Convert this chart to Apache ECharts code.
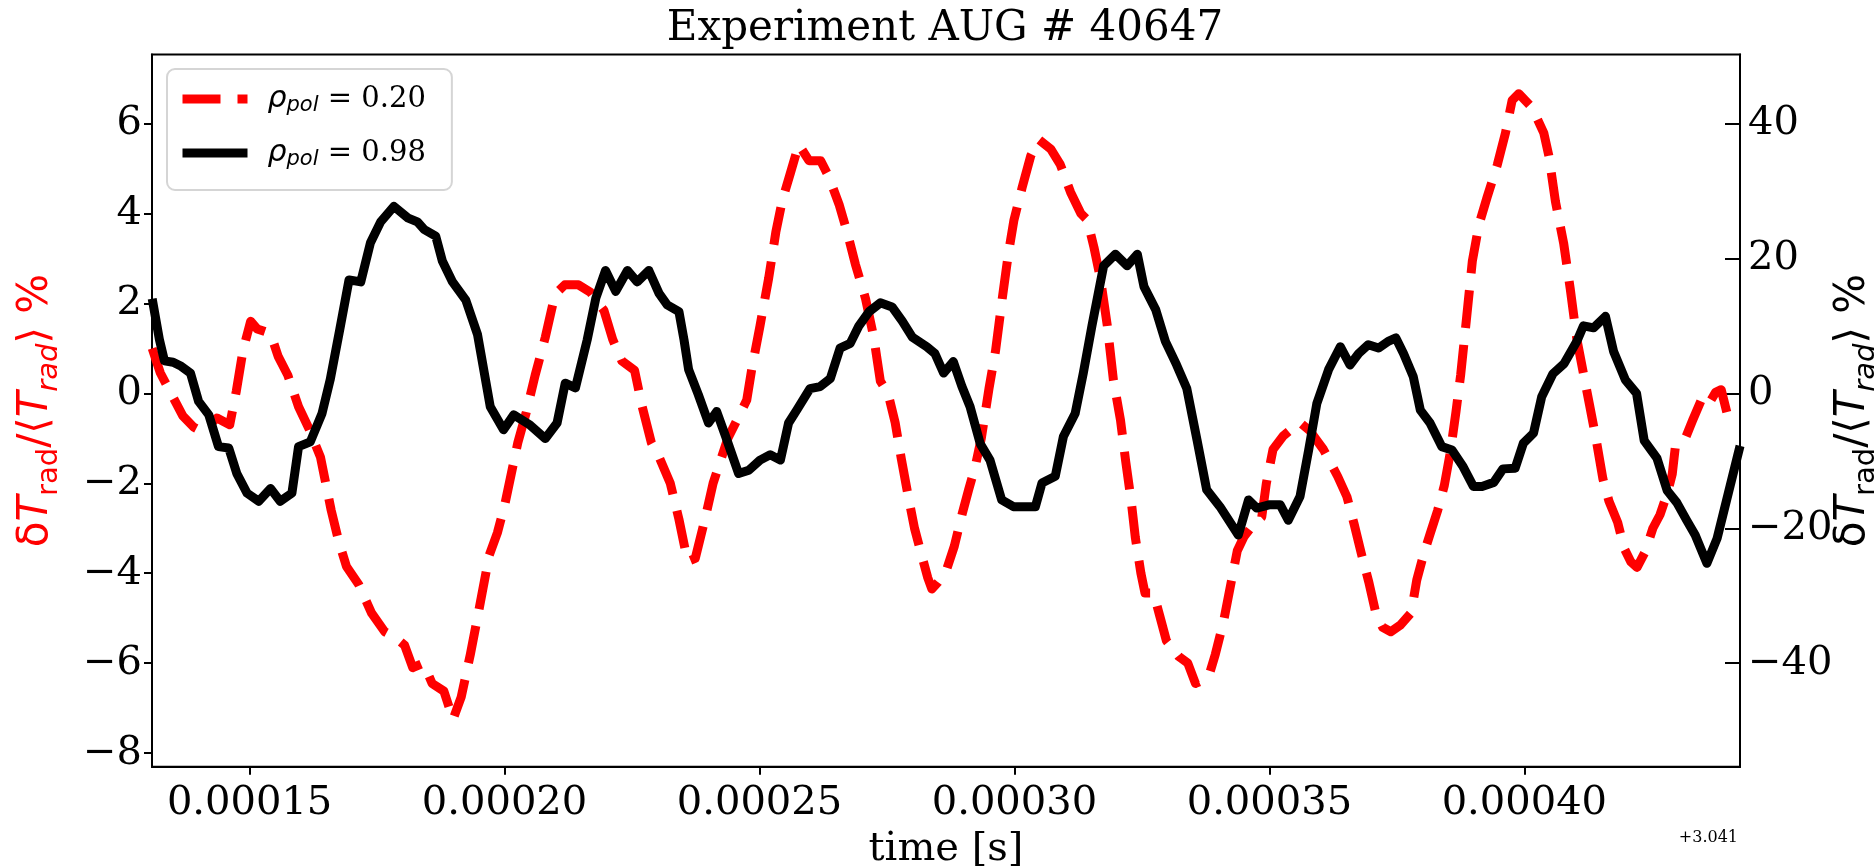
<!DOCTYPE html>
<html><head><meta charset="utf-8">
<script src="https://cdn.jsdelivr.net/npm/echarts@6/dist/echarts.min.js"></script>
<style>html,body{margin:0;padding:0;background:#fff;} #chart{width:1875px;height:866px;}</style>
</head><body><div id="chart"></div>
<script>
// time in microseconds after offset 3.041 s
const redTime = [130.9,132.5,134.8,136.9,139.0,140.7,143.6,146.1,147.4,148.7,150.2,151.5,154.1,155.6,157.5,159.6,161.7,163.9,166.0,167.5,169.0,171.4,173.9,176.5,178.6,180.4,182.0,184.1,185.8,188.1,189.9,191.5,193.3,195.0,197.0,198.6,200.0,201.3,202.6,204.2,206.0,208.0,209.9,211.8,214.5,216.8,219.5,221.2,223.0,225.5,227.0,228.8,230.4,232.5,234.2,235.9,237.4,239.3,240.9,242.2,243.8,246.2,247.5,248.5,250.1,251.8,253.2,254.5,256.1,257.7,259.7,262.0,263.6,265.6,267.2,268.8,270.8,272.4,273.7,275.2,276.6,277.8,279.1,280.4,281.8,283.0,283.8,285.0,286.6,288.2,289.7,291.0,292.3,293.5,295.0,296.3,297.6,298.8,299.9,301.5,303.2,304.8,307.1,309.0,311.0,313.0,314.3,315.6,316.9,318.2,319.4,320.8,321.8,322.9,323.7,324.8,325.6,327.3,328.5,329.8,332.2,334.0,335.5,338.0,339.4,341.0,342.5,343.7,345.0,347.0,348.5,349.4,350.7,352.7,354.3,356.0,357.9,360.6,363.4,365.2,366.6,368.0,369.5,370.9,372.2,373.8,375.7,377.8,378.9,380.2,381.5,383.0,384.3,385.5,386.6,387.5,388.6,389.8,391.1,392.7,394.7,396.3,397.6,398.9,401.5,403.8,404.8,406.1,407.7,409.0,410.3,411.6,412.8,414.1,415.4,416.6,418.3,419.6,420.9,422.1,423.7,425.2,426.6,428.1,429.0,429.6,431.4,433.0,434.8,436.1,437.5,438.6,439.7,441.2,442.3];
const redValues = [1.0,0.45,-0.05,-0.5,-0.75,-0.85,-0.55,-0.7,0.05,0.95,1.6,1.43,1.33,0.82,0.4,-0.3,-0.8,-1.42,-2.6,-3.3,-3.85,-4.25,-4.88,-5.3,-5.43,-5.6,-6.1,-6.0,-6.45,-6.62,-7.25,-6.75,-5.8,-4.8,-3.6,-3.1,-2.5,-1.8,-1.1,-0.45,0.4,1.25,2.2,2.41,2.41,2.25,1.84,1.2,0.72,0.51,-0.3,-1.1,-1.44,-2.0,-2.8,-3.74,-3.67,-2.8,-2.0,-1.55,-1.0,-0.45,-0.15,0.55,1.5,2.56,3.58,4.3,4.91,5.53,5.17,5.17,4.81,4.2,3.58,2.87,2.1,1.25,0.27,0.0,-0.65,-1.45,-2.25,-3.0,-3.6,-4.1,-4.35,-4.2,-3.95,-3.4,-2.7,-2.15,-1.63,-1.0,0.1,0.95,2.1,3.1,3.85,4.57,5.28,5.64,5.43,5.08,4.47,4.0,3.85,3.24,2.53,1.51,0.3,-0.6,-1.5,-2.4,-3.2,-4.0,-4.44,-4.44,-4.95,-5.5,-5.85,-6.0,-6.45,-6.33,-5.8,-5.08,-4.2,-3.5,-3.19,-2.9,-2.75,-2.0,-1.25,-0.95,-0.8,-0.65,-0.83,-1.25,-1.85,-2.3,-2.9,-3.55,-4.2,-4.9,-5.2,-5.3,-5.15,-4.88,-4.15,-3.6,-3.13,-2.6,-2.05,-1.3,-0.4,0.4,1.6,2.94,3.75,4.36,5.08,5.79,6.51,6.66,6.35,5.79,5.28,4.26,3.34,2.32,1.2,0.43,-0.27,-1.04,-1.9,-2.4,-2.87,-3.45,-3.75,-3.87,-3.52,-3.0,-2.7,-2.2,-1.8,-1.2,-1.05,-0.6,-0.12,-0.25,0.02,0.08,-0.42,-0.5,-0.59];
const blackTime = [130.9,132.3,133.3,135.0,136.6,138.4,140.0,142.0,143.9,145.9,147.5,149.5,151.8,154.1,156.0,158.3,159.6,161.9,164.2,165.8,167.7,169.5,171.8,173.7,175.7,178.3,181.0,182.9,184.2,186.5,187.8,189.8,192.4,194.7,197.2,199.8,201.8,205.0,208.0,210.3,211.9,213.9,216.2,217.9,219.8,221.8,224.1,226.0,228.3,230.3,231.9,234.2,235.2,236.1,238.0,240.0,241.6,243.6,245.9,247.9,250.1,252.1,254.1,255.7,257.3,259.9,261.9,263.9,265.8,267.8,269.5,271.5,273.7,276.0,278.0,280.0,282.8,284.4,286.1,288.0,289.7,291.3,293.3,295.2,297.5,299.8,304.1,305.4,308.0,309.6,311.9,313.5,315.2,317.5,319.8,322.1,324.1,325.4,327.7,329.6,331.8,333.8,335.8,337.7,340.3,343.9,345.9,347.5,350.1,352.1,353.7,356.0,357.7,359.3,361.6,363.9,365.8,367.5,369.4,371.4,373.3,374.8,376.3,378.2,379.6,381.5,383.8,385.8,388.0,390.0,391.7,394.0,395.8,398.2,399.8,401.8,403.4,405.6,407.8,410.3,411.6,413.6,415.9,417.5,419.8,422.0,423.5,426.0,428.0,429.9,431.9,433.5,435.8,437.8,440.0,442.3];
const blackValues = [14.0,8.0,4.8,4.6,4.0,3.0,-1.2,-3.2,-7.9,-8.1,-11.9,-14.8,-16.0,-14.1,-16.0,-14.8,-7.9,-7.2,-3.0,2.0,9.5,16.8,16.5,22.3,25.4,27.7,26.0,25.4,24.3,23.3,19.6,16.5,13.8,8.7,-2.0,-5.4,-3.2,-4.7,-6.7,-4.4,1.5,0.8,7.9,14.1,18.2,15.1,18.2,16.5,18.2,14.8,13.1,12.1,7.9,3.5,-0.2,-4.4,-2.7,-6.9,-11.9,-11.4,-9.9,-9.1,-9.9,-4.4,-2.5,0.7,1.0,2.2,6.7,7.4,10.0,12.1,13.4,12.8,10.7,8.3,6.9,5.9,3.0,4.7,1.0,-2.0,-7.5,-9.9,-15.8,-16.8,-16.8,-13.3,-12.3,-6.4,-3.0,3.0,10.0,18.9,20.6,18.9,20.6,15.8,12.4,7.7,4.2,0.7,-6.9,-14.3,-16.8,-21.0,-15.8,-17.0,-16.5,-16.5,-18.8,-15.3,-8.4,-1.5,3.5,6.9,4.2,5.9,7.2,6.7,7.7,8.2,5.9,2.5,-2.5,-4.4,-7.9,-8.4,-10.9,-13.8,-13.8,-13.2,-11.2,-11.1,-7.4,-5.9,-0.5,2.9,4.4,7.7,10.0,9.7,11.4,6.2,2.0,0.0,-7.0,-9.6,-14.4,-16.2,-18.9,-21.0,-25.2,-21.5,-14.8,-7.8];
const xTicks = [150, 200, 250, 300, 350, 400];
const leftTicks = [-8, -6, -4, -2, 0, 2, 4, 6];
const rightTicks = [-40, -20, 0, 20, 40];
const seriesNames = ['rho020', 'rho098'];
const legendLabels = ['0.20', '0.98'];

const serif = 'DejaVu Serif';
const sans = 'DejaVu Sans';
const minusFmt = v => (v < 0 ? '\u2212' + Math.abs(v) : String(v));

function nameRich(color) {
  return {
    d: {fontFamily: sans, fontSize: 42, lineHeight: 56, color: color},
    t: {fontFamily: sans, fontStyle: 'italic', fontSize: 42, lineHeight: 56, color: color},
    n: {fontFamily: sans, fontSize: 42, lineHeight: 56, color: color},
    s: {fontFamily: sans, fontSize: 29, lineHeight: 29, verticalAlign: 'bottom', color: color},
    si: {fontFamily: sans, fontStyle: 'italic', fontSize: 29, lineHeight: 29, verticalAlign: 'bottom', color: color}
  };
}
const nameStr = '{d|δ}{t|T}{s|rad}{n|/⟨}{t|T}{si|rad}{n|⟩ %}';

const chart = echarts.init(document.getElementById('chart'), null, {renderer: 'canvas'});
chart.setOption({
  animation: false,
  backgroundColor: '#fff',
  textStyle: {fontFamily: serif},
  title: {
    text: 'Experiment AUG # 40647',
    left: 940, top: 3, textAlign: 'center',
    textStyle: {fontFamily: serif, fontSize: 42, fontWeight: 'normal', color: '#000'}
  },
  grid: {left: 152, right: 135, top: 54.5, bottom: 99.3, show: true, borderColor: '#000', borderWidth: 2, containLabel: false, outerBoundsMode: 'none'},
  legend: {
    left: 167, top: 69, orient: 'vertical',
    padding: [15, 26, 20, 11],
    itemGap: 22, itemWidth: 65, itemHeight: 34,
    borderColor: '#d5d5d5', borderWidth: 2, borderRadius: 8,
    backgroundColor: 'rgba(255,255,255,0.8)',
    itemStyle: {opacity: 0},
    lineStyle: {width: 9},
    data: seriesNames,
    formatter: name => '{sp|}{r|ρ}{p|pol}{e| = ' + legendLabels[seriesNames.indexOf(name)] + '}',
    textStyle: {
      color: '#000',
      rich: {
        sp: {width: 15},
        r: {fontFamily: sans, fontStyle: 'italic', fontSize: 30, lineHeight: 34, color: '#000'},
        p: {fontFamily: sans, fontStyle: 'italic', fontSize: 21, lineHeight: 21, verticalAlign: 'bottom', color: '#000'},
        e: {fontFamily: serif, fontSize: 29, lineHeight: 34, color: '#000'}
      }
    }
  },
  xAxis: {
    type: 'value', min: 130.86, max: 442.29,
    name: 'time [s]', nameLocation: 'middle', nameGap: 63, nameMoveOverlap: false,
    nameTextStyle: {fontFamily: serif, fontSize: 40, color: '#000'},
    axisLine: {show: true, onZero: false, lineStyle: {color: '#000', width: 2}},
    axisTick: {show: true, customValues: xTicks, length: 8, lineStyle: {color: '#000', width: 2}},
    axisLabel: {customValues: xTicks, formatter: v => (v * 1e-6).toFixed(5), fontFamily: serif, fontSize: 40, color: '#000', margin: 17},
    splitLine: {show: false}
  },
  yAxis: [{
    type: 'value', position: 'left', min: -8.30, max: 7.53,
    name: nameStr, nameLocation: 'middle', nameRotate: 90, nameGap: 88, nameMoveOverlap: false,
    nameTextStyle: {color: 'red', rich: nameRich('red')},
    axisLine: {show: true, onZero: false, lineStyle: {color: '#000', width: 2}},
    axisTick: {show: true, customValues: leftTicks, length: 8, lineStyle: {color: '#000', width: 2}},
    axisLabel: {customValues: leftTicks, formatter: minusFmt, fontFamily: serif, fontSize: 40, color: '#000', margin: 10},
    splitLine: {show: false}
  }, {
    type: 'value', position: 'right', min: -55.33, max: 50.2,
    name: nameStr, nameLocation: 'middle', nameRotate: 90, nameGap: 85, nameMoveOverlap: false,
    nameTextStyle: {color: '#000', rich: nameRich('#000')},
    axisLine: {show: true, onZero: false, lineStyle: {color: '#000', width: 2}},
    axisTick: {show: true, inside: true, customValues: rightTicks, length: 15, lineStyle: {color: '#000', width: 2}},
    axisLabel: {customValues: rightTicks, formatter: minusFmt, fontFamily: serif, fontSize: 40, color: '#000', margin: 8},
    splitLine: {show: false}
  }],
  graphic: [{
    type: 'text', right: 137, top: 830,
    style: {text: '+3.041', font: '16px "DejaVu Serif"', fill: '#000'}
  }],
  series: [{
    name: seriesNames[0], type: 'line', xAxisIndex: 0, yAxisIndex: 0,
    data: redTime.map((t, i) => [t, redValues[i]]),
    symbol: 'none', smooth: false, z: 2,
    lineStyle: {color: '#ff0000', width: 9, type: [38, 17], join: 'round', cap: 'butt'}
  }, {
    name: seriesNames[1], type: 'line', xAxisIndex: 0, yAxisIndex: 1,
    data: blackTime.map((t, i) => [t, blackValues[i]]),
    symbol: 'none', smooth: false, z: 3,
    lineStyle: {color: '#000000', width: 9, type: 'solid', join: 'round', cap: 'butt'}
  }]
});
</script>
</body></html>
